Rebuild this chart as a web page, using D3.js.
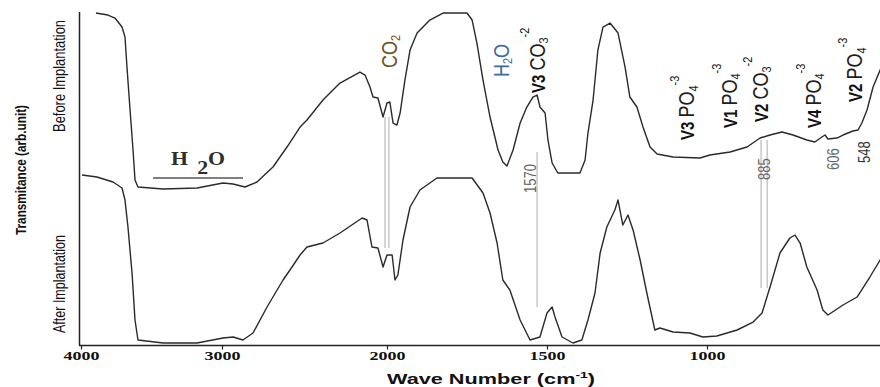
<!DOCTYPE html>
<html>
<head>
<meta charset="utf-8">
<script src="https://cdn.jsdelivr.net/npm/d3@7"></script>
<style>
  body { margin: 0; background: #fff; }
  text { font-family: 'Liberation Sans', Arial, sans-serif; }
</style>
</head>
<body>
<svg id="chart" width="880" height="387"></svg>
<script>
// wave number ticks shown on the bottom axis
const waveTicks = [4000, 3000, 2000, 1500, 1000]

// [wave number (cm-1), transmittance (arb. unit)]
const before = [
  [3894, 99.6], [3809, 99], [3759, 98.1], [3709, 95.4], [3688, 92.4], [3674, 83.4],
  [3652, 70.5], [3631, 58.5], [3617, 49.5], [3596, 47.4], [3418, 46.8], [3177, 47.1],
  [2994, 48.6], [2933, 48.3], [2861, 47.4], [2788, 48.9], [2691, 53.4], [2606, 59.4],
  [2527, 65.4], [2485, 67.5], [2388, 73.5], [2285, 78.6], [2164, 81.9], [2133, 81],
  [2103, 77.4], [2085, 74.4], [2055, 74.1], [2024, 68.4], [2000, 72.6], [1991, 72.9],
  [1981, 66.6], [1969, 66], [1959, 69.6], [1944, 79.5], [1928, 88.5], [1906, 93.6],
  [1866, 97.5], [1825, 99.6], [1750, 99.6], [1734, 97.5], [1719, 90.6], [1700, 79.5],
  [1678, 68.4], [1653, 58.5], [1638, 54.9], [1625, 53.7], [1606, 58.5], [1584, 66.6],
  [1563, 71.4], [1544, 74.4], [1531, 75], [1522, 71.4], [1506, 69.6], [1497, 61.5],
  [1484, 54.6], [1466, 51.6], [1397, 51.6], [1381, 55.5], [1372, 63.6], [1356, 73.5],
  [1341, 88.5], [1325, 95.4], [1303, 96.6], [1278, 93.6], [1256, 83.4], [1241, 74.4],
  [1219, 71.4], [1200, 65.4], [1178, 59.4], [1156, 57.3], [1106, 56.4], [1022, 56.1],
  [991, 57], [928, 57.9], [875, 59.4], [834, 62.1], [803, 63], [766, 63.9],
  [731, 63], [688, 61.5], [663, 60.9], [641, 62.4], [631, 63], [622, 61.8],
  [594, 62.1], [575, 63], [544, 64.2], [528, 64.5], [516, 66.6], [500, 70.5],
  [481, 77.4], [459, 82.5], [450, 84.9],
]

const after = [
  [3993, 51], [3887, 50.4], [3773, 48.9], [3709, 47.1], [3688, 43.5], [3667, 35.4],
  [3638, 21.6], [3617, 7.5], [3596, 1.5], [3418, 0.6], [3177, 0.6], [2994, 2.1],
  [2933, 2.4], [2873, 1.5], [2812, 3.6], [2727, 11.4], [2630, 19.5], [2588, 22.5],
  [2527, 27], [2485, 29.4], [2388, 30.6], [2285, 33.6], [2151, 38.1], [2121, 37.5],
  [2091, 29.4], [2055, 29.1], [2024, 23.4], [2000, 27], [1984, 27], [1975, 19.5],
  [1966, 21], [1950, 31.5], [1928, 41.4], [1897, 46.5], [1844, 50.1], [1734, 50.1],
  [1700, 45.6], [1678, 39.6], [1656, 30.6], [1638, 19.5], [1616, 16.5], [1584, 7.5],
  [1553, 1.5], [1522, 2.4], [1500, 9.6], [1484, 11.4], [1475, 8.4], [1453, 2.4],
  [1419, 0.6], [1391, 1.5], [1372, 7.5], [1350, 15.6], [1334, 27.6], [1313, 35.4],
  [1288, 40.5], [1278, 43.5], [1263, 36], [1247, 39], [1231, 34.5], [1209, 25.5],
  [1188, 15.6], [1163, 4.5], [1147, 5.1], [1106, 3.9], [1053, 3.6], [1013, 2.4],
  [969, 2.7], [906, 4.5], [856, 6.9], [828, 9.6], [803, 17.4], [772, 27.6],
  [741, 32.1], [725, 33], [709, 30.6], [688, 23.4], [656, 16.5], [638, 10.5],
  [622, 9], [575, 12], [531, 14.4], [491, 20.4], [459, 25.5], [450, 27],
]

// grey guide lines joining the two spectra
const guides = [
  { wn: 2012, from: 68.4, to: 29.1 },
  { wn: 1994, from: 68.4, to: 29.1 },
  { wn: 1531, from: 57.9, to: 11.4 },
  { wn: 831, from: 61.5, to: 17.1 },
  { wn: 812, from: 61.5, to: 17.1 },
]

// water band bar under the H2O label
const waterBand = { from: 3489, to: 2873, level: 50.1 }

// band assignments, written upwards; wn = centre, at = where the text starts
const bands = [
  { wn: 1994, at: 83.1, ink: 'brown', parts: [['CO', 'big'], ['2', 'sub']] },
  { wn: 1644, at: 80.4, ink: 'blue', parts: [['H', 'big'], ['2', 'sub'], ['O', 'big']] },
  { wn: 1531, at: 75.6, ink: 'dark', parts: [['V3 ', 'v'], ['CO', 'big'], ['3', 'sub'], ['-2', 'sup']] },
  { wn: 1063, at: 61.5, ink: 'dark', parts: [['V3 ', 'v'], ['PO', 'big'], ['4', 'sub'], ['-3', 'sup']] },
  { wn: 931, at: 65.1, ink: 'dark', parts: [['V1 ', 'v'], ['PO', 'big'], ['4', 'sub'], ['-3', 'sup']] },
  { wn: 834, at: 66.9, ink: 'dark', parts: [['V2 ', 'v'], ['CO', 'big'], ['3', 'sub'], ['-2', 'sup']] },
  { wn: 669, at: 65.1, ink: 'dark', parts: [['V4 ', 'v'], ['PO', 'big'], ['4', 'sub'], ['-3', 'sup']] },
  { wn: 538, at: 72.9, ink: 'dark', parts: [['V2 ', 'v'], ['PO', 'big'], ['4', 'sub'], ['-3', 'sup']] },
]

const peaks = [
  { text: '1570', wn: 1553, at: 45.6 },
  { text: '885', wn: 822, at: 49.5 },
  { text: '606', wn: 606, at: 52.5 },
  { text: '548', wn: 509, at: 54.6 },
]

const svg = d3.select('#chart')

const x = d3.scaleLinear()
  .domain([4000, 3000, 2000, 1000, 450])
  .range([81, 222, 387, 707, 883])

const y = d3.scaleLinear()
  .domain([0, 100])
  .range([345, 11.7])

svg.append('clipPath')
  .attr('id', 'plot-clip')
  .append('rect')
    .attr('x', 80)
    .attr('y', 0)
    .attr('width', 800)
    .attr('height', 346)

const plot = svg.append('g').attr('clip-path', 'url(#plot-clip)')

// guides first so the spectra sit on top
plot.selectAll('line.guide')
  .data(guides)
  .enter().append('line')
    .attr('class', 'guide')
    .attr('x1', (d) => x(d.wn))
    .attr('x2', (d) => x(d.wn))
    .attr('y1', (d) => y(d.from))
    .attr('y2', (d) => y(d.to))
    .attr('stroke', '#c8c8c8')
    .attr('stroke-width', 1.5)

plot.append('line')
  .attr('x1', x(waterBand.from))
  .attr('x2', x(waterBand.to))
  .attr('y1', y(waterBand.level))
  .attr('y2', y(waterBand.level))
  .attr('stroke', '#555')
  .attr('stroke-width', 1.6)

// H2O over the bar, bold serif with a dropped 2
const water = svg.append('text')
  .attr('transform', `translate(${(x(waterBand.from) + x(waterBand.to)) / 2},${y(waterBand.level) - 13}) scale(1.15,1)`)
  .attr('text-anchor', 'middle')
  .style('font-family', "'Liberation Serif', 'DejaVu Serif', serif")
  .style('font-weight', 'bold')
  .style('font-size', '19px')
  .attr('fill', '#2e2e2e')
water.append('tspan').text('H')
water.append('tspan').text('2').attr('dx', 8).attr('dy', 9)
water.append('tspan').text('O').attr('dy', -9)

const line = d3.line()
  .x((d) => x(d[0]))
  .y((d) => y(d[1]))

plot.selectAll('path.spectrum')
  .data([before, after])
  .enter().append('path')
    .attr('class', 'spectrum')
    .attr('d', line)
    .attr('fill', 'none')
    .attr('stroke', '#2a2a2a')
    .attr('stroke-width', 1.4)
    .attr('stroke-linejoin', 'round')

// axes frame
svg.append('line')
  .attr('x1', 79.5).attr('x2', 79.5)
  .attr('y1', 12).attr('y2', 345.5)
  .attr('stroke', '#222').attr('stroke-width', 1.5)
svg.append('line')
  .attr('x1', 79).attr('x2', 880)
  .attr('y1', 345.5).attr('y2', 345.5)
  .attr('stroke', '#222').attr('stroke-width', 1.5)

const xAxis = svg.append('g')
  .attr('transform', 'translate(0,345.5)')
  .call(d3.axisBottom(x).tickValues(waveTicks).tickSize(4).tickSizeOuter(0).tickFormat(d3.format('d')))

xAxis.select('.domain').remove()
xAxis.selectAll('.tick line').attr('stroke', '#222').attr('stroke-width', 1.2)
xAxis.selectAll('.tick text')
  .attr('y', 0)
  .attr('dy', null)
  .attr('transform', 'translate(0,14.5) scale(1.5,1)')
  .style('font-family', "'Liberation Serif', 'DejaVu Serif', serif")
  .style('font-weight', 'bold')
  .style('font-size', '12px')
  .attr('fill', '#111')

const xTitle = svg.append('text')
  .attr('transform', 'translate(491,384) scale(1.55,1)')
  .attr('text-anchor', 'middle')
  .style('font-weight', 'bold')
  .style('font-size', '14px')
  .attr('fill', '#111')
xTitle.append('tspan').text('Wave Number (cm')
xTitle.append('tspan').text('-1').attr('font-size', 9).attr('dy', -6)
xTitle.append('tspan').text(')').attr('dy', 6)

// rotated side labels
const sideLabel = (text, cx, cy, len, size, weight) => {
  svg.append('text')
    .attr('transform', `translate(${cx + size * 0.36 * 1.25},${cy}) scale(1.25,1) rotate(-90)`)
    .attr('text-anchor', 'middle')
    .attr('textLength', len)
    .attr('lengthAdjust', 'spacingAndGlyphs')
    .style('font-size', size + 'px')
    .style('font-weight', weight)
    .attr('fill', '#111')
    .text(text)
}

sideLabel('Transmitance (arb.unit)', 21, 170, 130, 12, 'bold')
sideLabel('Before Implantation', 59, 76, 112, 12.5, 'normal')
sideLabel('After Implantation', 59, 284, 98, 12.5, 'normal')

const inks = { brown: '#6b5426', blue: '#3e6aa6', dark: '#1e1e1e' }
const roles = {
  big: { size: 18, weight: 'normal', shift: 0 },
  v: { size: 15, weight: 'bold', shift: 0 },
  sub: { size: 11, weight: 'normal', shift: 3 },
  sup: { size: 11, weight: 'normal', shift: -13 },
}

bands.forEach((b) => {
  const sx = 1.18
  const t = svg.append('text')
    .attr('transform', `translate(${x(b.wn) + 18 * 0.36 * sx},${y(b.at)}) scale(${sx},1) rotate(-90)`)
  let shift = 0
  b.parts.forEach(([txt, role]) => {
    const r = roles[role]
    t.append('tspan')
      .attr('dy', r.shift - shift)
      .attr('font-size', r.size)
      .attr('font-weight', r.weight)
      .attr('fill', role === 'v' || role === 'sup' && b.ink === 'dark' ? '#111' : inks[b.ink])
      .style('white-space', 'pre')
      .text(txt)
    shift = r.shift
  })
})

svg.selectAll('text.peak')
  .data(peaks)
  .enter().append('text')
    .attr('class', 'peak')
    .attr('transform', (d) => `translate(${x(d.wn) + 13 * 0.36 * 1.2},${y(d.at)}) scale(1.2,1) rotate(-90)`)
    .style('font-size', '13px')
    .attr('fill', (d) => d.text === '548' ? '#333' : '#666')
    .text((d) => d.text)
</script>
</body>
</html>
